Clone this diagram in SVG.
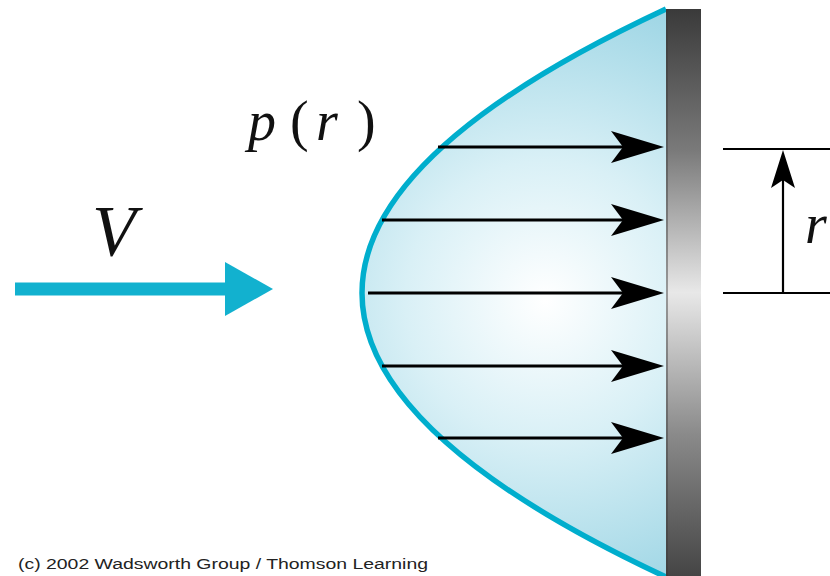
<svg xmlns="http://www.w3.org/2000/svg" width="830" height="576" viewBox="0 0 830 576">
<style>
.flow{stroke:#000;stroke-width:3;fill:none}
.head{fill:#000}
.dim{stroke:#000;stroke-width:2.2;fill:none}
</style>
<defs>
<radialGradient id="fluid" gradientUnits="userSpaceOnUse" cx="545" cy="300" r="310">
<stop offset="0" stop-color="#ffffff"/>
<stop offset="0.45" stop-color="#d9f0f6"/>
<stop offset="1" stop-color="#9fd6e5"/>
</radialGradient>
<linearGradient id="wallg" gradientUnits="userSpaceOnUse" x1="0" y1="9" x2="0" y2="576">
<stop offset="0" stop-color="#3a3a3a"/>
<stop offset="0.25" stop-color="#7a7a7a"/>
<stop offset="0.5" stop-color="#e8e8e8"/>
<stop offset="0.75" stop-color="#8a8a8a"/>
<stop offset="1" stop-color="#454545"/>
</linearGradient>
</defs>
<rect width="830" height="576" fill="#fff"/>
<g id="fluid-profile">
<path d="M666,9 Q58,293 666,577 Z" fill="url(#fluid)"/>
<path d="M666,9 Q58,293 666,577" fill="none" stroke="#00aecd" stroke-width="5.5"/>
</g>
<g id="wall">
<rect x="666" y="9" width="35" height="567" fill="url(#wallg)"/>
<line x1="667" y1="9" x2="667" y2="576" stroke="#3a3a3a" stroke-width="1.5" opacity="0.6"/>
</g>
<g id="connectors">
<line class="flow" x1="438" y1="147" x2="625" y2="147"/>
<path class="head" d="M664,147 L611,131 L623,147 L611,163 Z"/>
<line class="flow" x1="382" y1="220" x2="625" y2="220"/>
<path class="head" d="M664,220 L611,204 L623,220 L611,236 Z"/>
<line class="flow" x1="368" y1="293" x2="625" y2="293"/>
<path class="head" d="M664,293 L611,277 L623,293 L611,309 Z"/>
<line class="flow" x1="382" y1="366" x2="625" y2="366"/>
<path class="head" d="M664,366 L611,350 L623,366 L611,382 Z"/>
<line class="flow" x1="438" y1="438" x2="625" y2="438"/>
<path class="head" d="M664,438 L611,422 L623,438 L611,454 Z"/>
</g>
<g id="velocity">
<line x1="15" y1="289" x2="230" y2="289" stroke="#12b1cf" stroke-width="13"/>
<path d="M273,289 L225,262 L225,316 Z" fill="#12b1cf"/>
<text x="92" y="255" font-size="72" font-family="Liberation Serif, serif" font-style="italic" fill="#111">V</text>
</g>
<g id="pressure-label" font-family="Liberation Serif, serif" font-size="56" fill="#111">
<text x="248" y="140" font-style="italic">p</text>
<text x="290" y="140">(</text>
<text x="316" y="140" font-style="italic">r</text>
<text x="357" y="140">)</text>
</g>
<g id="radius-dimension">
<line class="dim" x1="723" y1="149" x2="830" y2="149"/>
<line class="dim" x1="723" y1="293" x2="830" y2="293"/>
<line class="dim" x1="783" y1="293" x2="783" y2="170"/>
<path class="head" d="M783,150 L771,188 L783,180 L795,188 Z"/>
<text x="805" y="243" font-size="56" font-family="Liberation Serif, serif" font-style="italic" fill="#111">r</text>
</g>
<g id="copyright">
<text x="18" y="569" font-size="14" font-family="Liberation Sans, Arial, sans-serif" fill="#222" textLength="410" lengthAdjust="spacingAndGlyphs">(c) 2002 Wadsworth Group / Thomson Learning</text>
</g>
</svg>
